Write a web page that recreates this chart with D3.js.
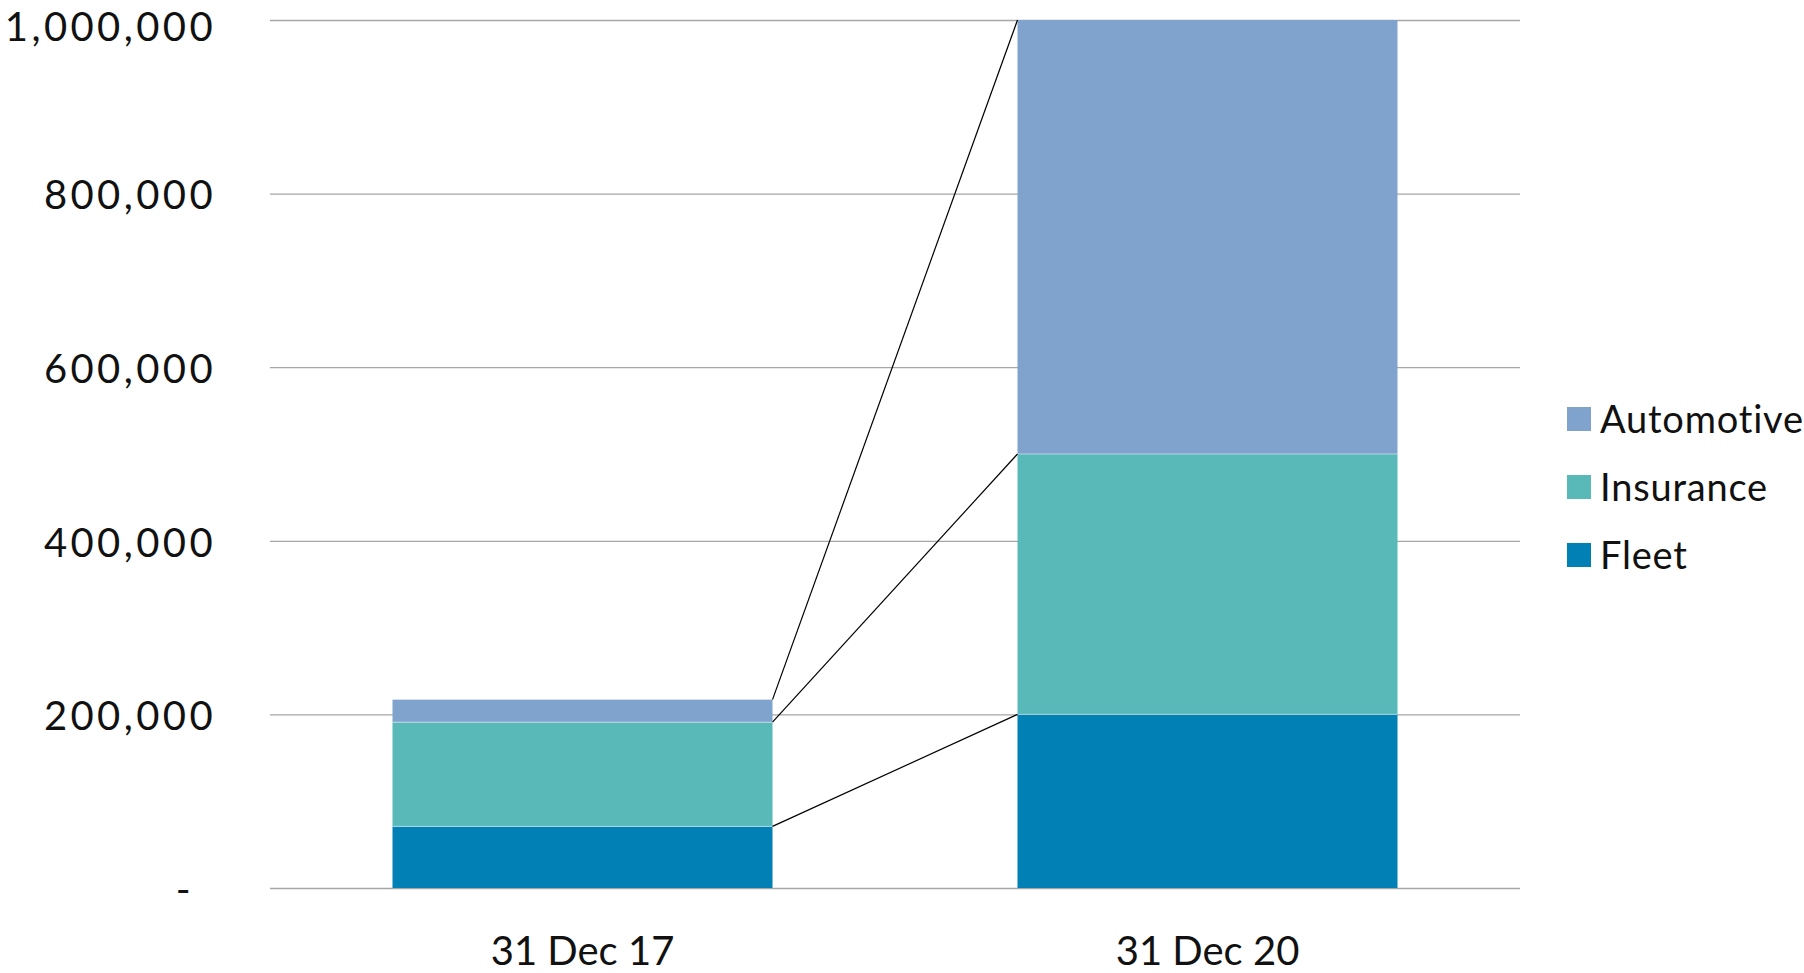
<!DOCTYPE html>
<html>
<head>
<meta charset="utf-8">
<script src="https://cdn.jsdelivr.net/npm/d3@7"></script>
<style>
  html, body { margin: 0; padding: 0; background: #fff; }
  svg { display: block; font-family: Lato, "Open Sans", sans-serif; }
</style>
</head>
<body>
<svg id="chart" width="1804" height="973"></svg>
<script>
const categories = ["31 Dec 17", "31 Dec 20"];
const seriesNames = ["Fleet", "Insurance", "Automotive"];
const fleet = [71000, 200000];
const insurance = [120000, 300000];
const automotive = [26000, 500000];
const yTicks = [0, 200000, 400000, 600000, 800000, 1000000];
const legendOrder = ["Automotive", "Insurance", "Fleet"];

const colors = { Fleet: "#0080B4", Insurance: "#59B9B9", Automotive: "#7FA3CC" };
const FONT = "Lato, 'Open Sans', sans-serif";

const rows = categories.map((c, i) => ({ cat: c, Fleet: fleet[i], Insurance: insurance[i], Automotive: automotive[i] }));
const stacked = d3.stack().keys(seriesNames)(rows);

const svg = d3.select("#chart");
const margin = { left: 270, right: 284, top: 20, bottom: 85 };
const W = 1804, H = 973;

const x = d3.scaleBand().domain(categories).range([margin.left, W - margin.right]).paddingInner(0.392).paddingOuter(0.196);
const y = d3.scaleLinear().domain([0, 1000000]).range([H - margin.bottom, margin.top]);

// gridlines
const yAxis = d3.axisLeft(y).tickValues(yTicks).tickSize(-(W - margin.left - margin.right))
  .tickFormat(d => d === 0 ? "-" : d3.format(",")(d)).tickPadding(54);
const gy = svg.append("g").attr("transform", `translate(${margin.left},0)`).call(yAxis)
  .attr("font-family", FONT);
gy.select(".domain").remove();
gy.selectAll(".tick line").attr("stroke", "#a6a6a6").attr("stroke-width", 1.3);
gy.selectAll(".tick text").attr("font-size", 40).attr("fill", "#111").attr("dy", "0.38em")
  .attr("letter-spacing", 3.4);
gy.selectAll(".tick text").filter(d => d === 0).attr("dx", -22);
gy.selectAll(".tick text").filter(d => d === 1000000).attr("dy", "0.5em");

// bars
svg.append("g").selectAll("g").data(stacked).join("g")
  .attr("fill", d => colors[d.key])
  .selectAll("rect").data(d => d).join("rect")
  .attr("x", d => x(d.data.cat))
  .attr("width", x.bandwidth())
  .attr("y", d => y(d[1]))
  .attr("height", d => y(d[0]) - y(d[1]));

// thin separators between segments
svg.append("g").selectAll("g").data(stacked.slice(0, -1)).join("g")
  .selectAll("line").data(d => d).join("line")
  .attr("x1", d => x(d.data.cat)).attr("x2", d => x(d.data.cat) + x.bandwidth())
  .attr("y1", d => y(d[1])).attr("y2", d => y(d[1]))
  .attr("stroke", "#ffffff").attr("stroke-opacity", 0.5).attr("stroke-width", 1);

// connector lines
svg.append("g").selectAll("line").data(stacked).join("line")
  .attr("x1", x(categories[0]) + x.bandwidth())
  .attr("y1", d => y(d[0][1]))
  .attr("x2", x(categories[1]))
  .attr("y2", d => y(d[1][1]))
  .attr("stroke", "#000").attr("stroke-width", 1.2);

// x axis labels
const xAxis = d3.axisBottom(x).tickSize(0).tickPadding(49);
const gx = svg.append("g").attr("transform", `translate(0,${y(0)})`).call(xAxis)
  .attr("font-family", FONT);
gx.select(".domain").remove();
gx.selectAll(".tick text").attr("font-size", 40).attr("fill", "#111");

// legend
const lg = svg.append("g").attr("transform", "translate(1567,407)");
const li = lg.selectAll("g").data(legendOrder).join("g")
  .attr("transform", (d, i) => `translate(0,${i * 68})`);
li.append("rect").attr("width", 24).attr("height", 24).attr("fill", d => colors[d]);
li.append("text").attr("x", 33).attr("y", 12).attr("dy", "0.36em")
  .attr("font-size", 38).attr("letter-spacing", 0.8).attr("fill", "#111").text(d => d);
</script>
</body>
</html>
